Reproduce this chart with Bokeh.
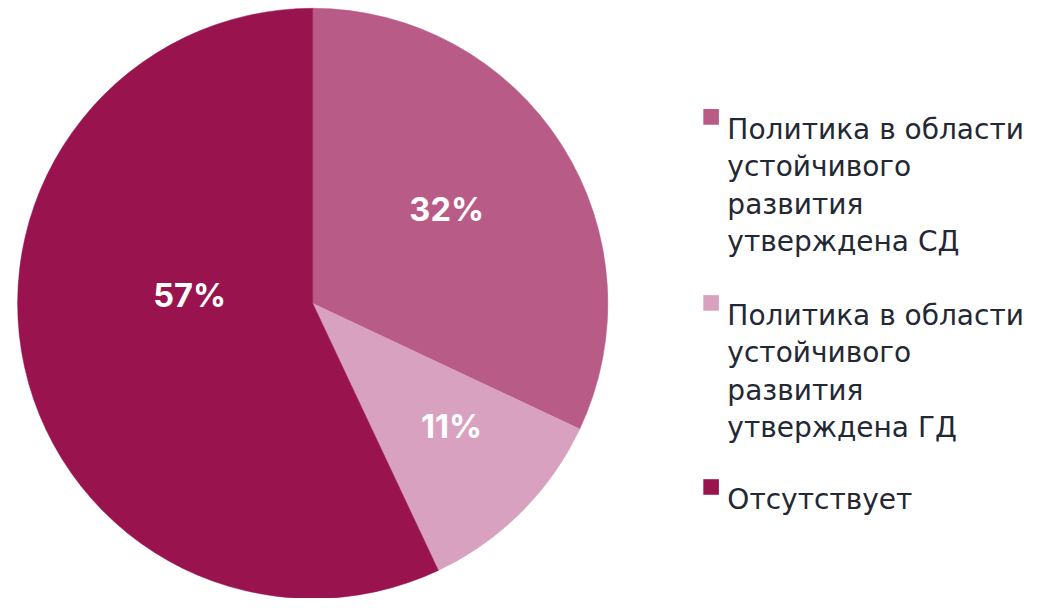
from bokeh.plotting import figure
from bokeh.models import Range1d, ColumnDataSource
from bokeh.core.properties import value
from bokeh.embed import file_html
from bokeh.resources import INLINE
import math

# ---- data ----
categories = [
    "Политика в области\nустойчивого\nразвития\nутверждена СД",
    "Политика в области\nустойчивого\nразвития\nутверждена ГД",
    "Отсутствует",
]
shares = [32, 11, 57]
pct_labels = ["32%", "11%", "57%"]
colors = ["#b95b87", "#d7a1bf", "#99134f"]

# ---- layout (reference-pixel based, mapped onto the figure) ----
W, H = 1045, 598
REF_W, REF_H = 1061, 614
k = min(W / REF_W, H / REF_H)
cx, cy, R = 317, 311, 303
label_pos = [(453, 214), (458, 437), (192, 302)]
legend_x_sq, legend_x_txt = 713, 738
legend_first_baseline = [132, 323, 512]
line_h = 38.5
font = "DejaVu Sans"
legend_font_px = 28.8
label_font_px = 33.5

p = figure(width=W, height=H, output_backend="svg", toolbar_location=None,
           x_range=Range1d(0, REF_W), y_range=Range1d(-REF_H, 0),
           min_border=0)
p.axis.visible = False
p.grid.visible = False
p.outline_line_color = None
p.background_fill_color = "white"

total = sum(shares)
starts, ends = [], []
cum = 0
for s in shares:
    starts.append(math.pi / 2 - 2 * math.pi * cum / total)
    cum += s
    ends.append(math.pi / 2 - 2 * math.pi * cum / total)

src = ColumnDataSource(dict(start=starts, end=ends, color=colors))
p.wedge(x=cx, y=-cy, radius=R * k, radius_units="screen",
        start_angle="start", end_angle="end",
        direction="clock", fill_color="color", line_color="color", line_width=0.5,
        source=src)

p.text(x=[x for x, _ in label_pos], y=[-y for _, y in label_pos],
       text=pct_labels, text_color="white", text_font=value("Inter"),
       text_font_style="bold", text_font_size=f"{label_font_px * k:.1f}px",
       text_align="center", text_baseline="middle")

# legend
for i, (cat, col) in enumerate(zip(categories, colors)):
    b = legend_first_baseline[i]
    p.rect(x=legend_x_sq + 8.5, y=-(b - 12.5), width=16 * k, height=16 * k,
           width_units="screen", height_units="screen",
           fill_color=col, line_color=None)
    lines = cat.split("\n")
    p.text(x=[legend_x_txt] * len(lines),
           y=[-(b + j * line_h) for j in range(len(lines))],
           text=lines, text_color="#232833", text_font=value(font),
           text_font_size=f"{legend_font_px * k:.1f}px",
           text_align="left", text_baseline="alphabetic")

open("out.html", "w").write(file_html(p, INLINE))
